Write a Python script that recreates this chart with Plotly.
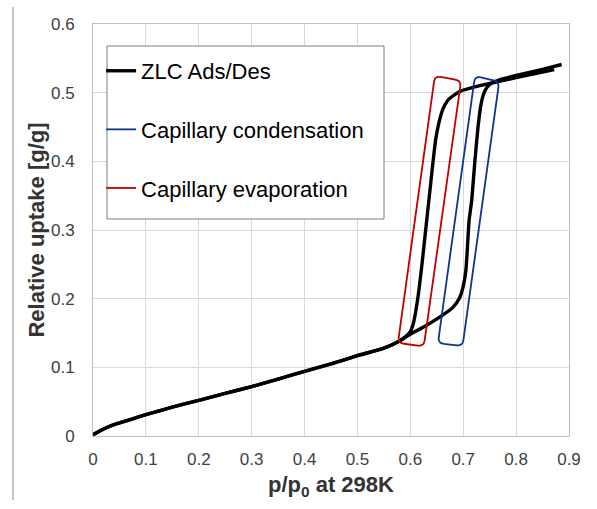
import numpy as np
import plotly.graph_objects as go

# ---- data ----
ads_x = [0.0, 0.01, 0.025, 0.045, 0.075, 0.10, 0.15, 0.20, 0.25, 0.30, 0.35, 0.40, 0.45, 0.50,
         0.55, 0.576, 0.60, 0.63, 0.659, 0.68, 0.693, 0.700, 0.705, 0.708, 0.711, 0.716, 0.722,
         0.728, 0.733, 0.738, 0.745, 0.754, 0.766, 0.80, 0.85, 0.886]
ads_y = [0.002, 0.006, 0.012, 0.018, 0.025, 0.031, 0.042, 0.052, 0.062, 0.072, 0.083, 0.094,
         0.105, 0.117, 0.128, 0.137, 0.148, 0.161, 0.175, 0.187, 0.201, 0.218, 0.241, 0.275,
         0.313, 0.343, 0.400, 0.450, 0.480, 0.497, 0.508, 0.514, 0.518, 0.525, 0.534, 0.541]

des_x = [0.872, 0.85, 0.80, 0.766, 0.72, 0.693, 0.672, 0.661, 0.654, 0.648, 0.643, 0.636,
         0.629, 0.622, 0.614, 0.606, 0.600, 0.590, 0.576, 0.55, 0.50, 0.45, 0.40, 0.35, 0.30,
         0.25, 0.20, 0.15, 0.10, 0.075, 0.045, 0.025, 0.01, 0.0]
des_y = [0.5335, 0.530, 0.522, 0.516, 0.508, 0.5015, 0.490, 0.475, 0.456, 0.432, 0.400, 0.350,
         0.300, 0.250, 0.200, 0.165, 0.152, 0.144, 0.137, 0.128, 0.117, 0.105, 0.094, 0.083,
         0.072, 0.062, 0.052, 0.042, 0.031, 0.025, 0.018, 0.012, 0.006, 0.002]

# hysteresis highlight boxes (corners TL, TR, BR, BL)
cond_box_x = [0.7222, 0.7680, 0.6988, 0.6522]
cond_box_y = [0.5244, 0.5160, 0.1310, 0.1350]
evap_box_x = [0.6463, 0.6960, 0.6255, 0.5766]
evap_box_y = [0.5244, 0.5176, 0.1305, 0.1355]

x_ticks = [0, 0.1, 0.2, 0.3, 0.4, 0.5, 0.6, 0.7, 0.8, 0.9]
y_ticks = [0, 0.1, 0.2, 0.3, 0.4, 0.5, 0.6]

# ---- layout constants ----
W, H = 597, 509
ML, MR, MT, MB = 93, 28, 24, 73
XR = [0, 0.9]
YR = [0, 0.6]
KX = (W - ML - MR) / (XR[1] - XR[0])   # px per x unit
KY = (H - MT - MB) / (YR[1] - YR[0])   # px per y unit
RADIUS = 6.0


def rounded(xs, ys, r=RADIUS, n=8):
    px = [x * KX for x in xs]
    py = [y * KY for y in ys]
    m = len(px)
    ox, oy = [], []
    for i in range(m):
        ax, ay = px[i - 1], py[i - 1]
        cx, cy = px[i], py[i]
        bx, by = px[(i + 1) % m], py[(i + 1) % m]
        da = np.hypot(ax - cx, ay - cy)
        db = np.hypot(bx - cx, by - cy)
        sx, sy = cx + (ax - cx) * r / da, cy + (ay - cy) * r / da
        ex, ey = cx + (bx - cx) * r / db, cy + (by - cy) * r / db
        for t in np.linspace(0, 1, n):
            qx = (1 - t) ** 2 * sx + 2 * (1 - t) * t * cx + t ** 2 * ex
            qy = (1 - t) ** 2 * sy + 2 * (1 - t) * t * cy + t ** 2 * ey
            ox.append(qx / KX)
            oy.append(qy / KY)
    ox.append(ox[0])
    oy.append(oy[0])
    return ox, oy


BLACK = "#000000"
BLUE = "#0B3590"
RED = "#C00000"

fig = go.Figure()
fig.add_trace(go.Scatter(x=ads_x, y=ads_y, mode="lines", name="ZLC Ads/Des",
                         legendgroup="a",
                         line=dict(color=BLACK, width=3.4, shape="spline", smoothing=0.5)))
fig.add_trace(go.Scatter(x=des_x, y=des_y, mode="lines", name="ZLC Ads/Des",
                         legendgroup="a", showlegend=False,
                         line=dict(color=BLACK, width=3.4, shape="spline", smoothing=0.5)))
bx, by = rounded(cond_box_x, cond_box_y)
fig.add_trace(go.Scatter(x=bx, y=by, mode="lines", name="Capillary condensation",
                         legendgroup="b", line=dict(color=BLUE, width=1.8)))
rx, ry = rounded(evap_box_x, evap_box_y)
fig.add_trace(go.Scatter(x=rx, y=ry, mode="lines", name="Capillary evaporation",
                         legendgroup="c", line=dict(color=RED, width=1.8)))

FONT = "Liberation Sans, Arial, sans-serif"
GRID = "#D9D9D9"

fig.update_layout(
    width=W, height=H,
    margin=dict(l=ML, r=MR, t=MT, b=MB),
    paper_bgcolor="white", plot_bgcolor="white",
    font=dict(family=FONT, color="#404040"),
    showlegend=True,
    legend=dict(x=0.017, y=0.937, xanchor="left", yanchor="top",
                bgcolor="rgba(0,0,0,0)", borderwidth=0,
                font=dict(family=FONT, size=22, color="#000000"),
                tracegroupgap=27, itemwidth=30, traceorder="grouped"),
    xaxis=dict(range=XR, tickvals=x_ticks, ticktext=[f"{v:g}" for v in x_ticks],
               showgrid=True, gridcolor=GRID, gridwidth=1,
               showline=True, linecolor="#BFBFBF", linewidth=1, mirror=True,
               zeroline=False, ticks="", ticklabelstandoff=8,
               tickfont=dict(family=FONT, size=17, color="#404040"),
               title=dict(text="<b>p/p<sub>0</sub> at 298K</b>", standoff=8,
                          font=dict(family=FONT, size=22, color="#333333"))),
    yaxis=dict(range=YR, tickvals=y_ticks, ticktext=[f"{v:g}" for v in y_ticks],
               showgrid=True, gridcolor=GRID, gridwidth=1,
               showline=True, linecolor="#BFBFBF", linewidth=1, mirror=True,
               zeroline=False, ticks="", ticklabelstandoff=14,
               tickfont=dict(family=FONT, size=17, color="#404040"),
               title=dict(text="<b>Relative uptake [g/g]</b>", standoff=0,
                          font=dict(family=FONT, size=22, color="#333333"))),
    shapes=[
        dict(type="rect", xref="paper", yref="paper",
             x0=(107 - ML) / (W - ML - MR), x1=(384 - ML) / (W - ML - MR),
             y0=(H - MB - 219) / (H - MT - MB), y1=(H - MB - 46) / (H - MT - MB),
             line=dict(color="#7F7F7F", width=1), fillcolor="white", layer="above"),
        dict(type="line", xref="paper", yref="paper",
             x0=(13 - ML) / (W - ML - MR), x1=(13 - ML) / (W - ML - MR),
             y0=(H - MB - 500) / (H - MT - MB), y1=(H - MB - 7) / (H - MT - MB),
             line=dict(color="#8C8C8C", width=1)),
    ],
)

fig.write_html("out.html")
